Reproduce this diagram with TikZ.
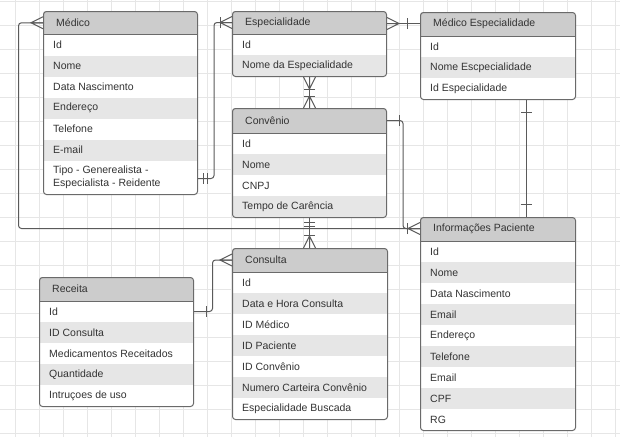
\documentclass[tikz,border=0pt]{standalone}
\usepackage{fontspec}
\setmainfont{Liberation Sans}
\usetikzlibrary{calc}
\definecolor{hdr}{HTML}{CCCCCC}
\definecolor{alt}{HTML}{E6E6E6}
\definecolor{bord}{HTML}{6A6A6A}
\definecolor{txt}{HTML}{333333}
\definecolor{gridc}{HTML}{E6E6E6}
\definecolor{conn}{HTML}{5A5A5A}
\tikzset{
  rowtxt/.style={anchor=west, inner sep=0pt, text=txt, font=\fontsize{10.5}{12.5}\selectfont},
  frame/.style={draw=bord, line width=1pt, rounded corners=3pt, anchor=north west, inner sep=0pt},
  sep/.style={draw=bord, line width=1pt},
  link/.style={draw=conn, line width=1pt, rounded corners=3pt},
  tick/.style={draw=conn, line width=1pt},
  gridline/.style={draw=gridc, line width=0.8pt},
}
\newcommand\ent[8]{%
  \begin{scope}
    \clip[rounded corners=3pt] (#2,#3) rectangle ++(#4,#5);
    \fill[white] (#2,#3) rectangle ++(#4,#5);
    \fill[hdr] (#2,#3) rectangle ++(#4,#6);
    \foreach \rowtext [count=\i] in {#8} {
      \ifodd\i\else \fill[alt] (#2,{#3+#6+(\i-1)*21}) rectangle ++(#4,21);\fi
    }
  \end{scope}
  \draw[sep] (#2,#3+#6) -- ++(#4,0);
  \node[rowtxt] (#1-t) at (#2+13,#3+#6/2) {#7};
  \foreach \rowtext [count=\i] in {#8} {
    \node[rowtxt] (#1-r\i) at (#2+10,{#3+#6+(\i-1)*21+10.5}) {\rowtext};
  }
  \node[frame, minimum width=#4pt, minimum height=#5pt] (#1) at (#2,#3) {};
}
\newcommand\crowfoot[2]{\begin{scope}[shift={#1}, rotate=#2]\draw[tick] (0,-6) -- (12,0) -- (0,6) (0,0) -- (12,0);\end{scope}}
\newcommand\onebar[3]{\begin{scope}[shift={#1}, rotate=#2]\draw[tick] (#3,-5.5) -- (#3,5.5);\end{scope}}
\begin{document}
\begin{tikzpicture}[x=1pt, y=-1pt]
\useasboundingbox (0,0) rectangle (620,437);
\fill[white] (0,0) rectangle (620,437);
\foreach \gx in {15,39,...,615} \draw[gridline] (\gx,0) -- (\gx,437);
\foreach \gy in {1,25,...,433} \draw[gridline] (0,\gy) -- (620,\gy);

% entities
\ent{medico}{43}{11}{154}{183}{23.5}{Médico}{Id,Nome,Data Nascimento,Endereço,Telefone,E-mail}
\node[rowtxt, align=left] (medico-r7) at (53,177.5) {Tipo - Generealista -\\Especialista - Reidente};
\ent{esp}{232}{11}{154}{65}{23}{Especialidade}{Id,Nome da Especialidade}
\ent{conv}{232}{108}{154}{109}{25}{Convênio}{Id,Nome,CNPJ,Tempo de Carência}
\ent{medesp}{420}{12}{155}{87}{24}{Médico Especialidade}{Id,Nome Escpecialidade,Id Especialidade}
\ent{info}{420}{217}{155}{213}{24}{Informações Paciente}{Id,Nome,Data Nascimento,Email,Endereço,Telefone,Email,CPF,RG}
\ent{receita}{39}{277}{154}{129}{24}{Receita}{Id,ID Consulta,Medicamentos Receitados,Quantidade,Intruçoes de uso}
\ent{cons}{232}{248}{155}{171}{24}{Consulta}{Id,Data e Hora Consulta,ID Médico,ID Paciente,ID Convênio,Numero Carteira Convênio,Especialidade Buscada}

% C1: Medico -> Informacoes Paciente
\draw[link] (medico.west |- medico-t.west) -| (18.5,228.5) -- (info.west |- 0,228.5);
\crowfoot{(medico.west |- medico-t.west)}{180}
% Convenio -> Informacoes Paciente
\draw[link] (conv.east |- conv-t.west) -| (403,228.5) -- (info.west |- 0,228.5);
\onebar{(conv.east |- conv-t.west)}{0}{12.5}
\crowfoot{(info.west |- 0,228.5)}{180}
\onebar{(info.west |- 0,228.5)}{180}{12.5}

% C2: Medico -> Especialidade
\draw[link] (medico.east |- 0,178.5) -| (214,22.5) -- (esp.west |- 0,22.5);
\onebar{(medico.east |- 0,178.5)}{0}{5.5}
\onebar{(medico.east |- 0,178.5)}{0}{9.5}
\crowfoot{(esp.west |- 0,22.5)}{180}
\onebar{(esp.west |- 0,22.5)}{180}{12}

% C3: Especialidade -> Medico Especialidade
\draw[link] (esp.east |- 0,23.5) -- (medesp.west |- 0,23.5);
\crowfoot{(esp.east |- 0,23.5)}{0}
\onebar{(medesp.west |- 0,23.5)}{180}{12.5}

% C4: Especialidade -> Convenio
\draw[link] (esp.south) -- (conv.north);
\crowfoot{(esp.south)}{-90}
\onebar{(esp.south)}{-90}{12}
\crowfoot{(conv.north)}{90}
\onebar{(conv.north)}{90}{12}

% C5: Convenio -> Consulta
\draw[link] (conv.south) -- (conv.south |- cons.north);
\onebar{(conv.south)}{-90}{4.5}
\onebar{(conv.south)}{-90}{8.5}
\crowfoot{(conv.south |- cons.north)}{90}
\onebar{(conv.south |- cons.north)}{90}{12.5}

% C6: Medico Especialidade -> Informacoes Paciente
\draw[link] (medesp.south -| 526,0) -- (info.north -| 526,0);
\onebar{(medesp.south -| 526,0)}{-90}{12.5}
\onebar{(info.north -| 526,0)}{90}{12.5}

% C7: Receita -> Consulta
\draw[link] (receita.east |- receita-r1.west) -| (212.5,260) -- (cons.west |- cons-t.west);
\onebar{(receita.east |- receita-r1.west)}{0}{12.5}
\crowfoot{(cons.west |- cons-t.west)}{180}
\end{tikzpicture}
\end{document}
